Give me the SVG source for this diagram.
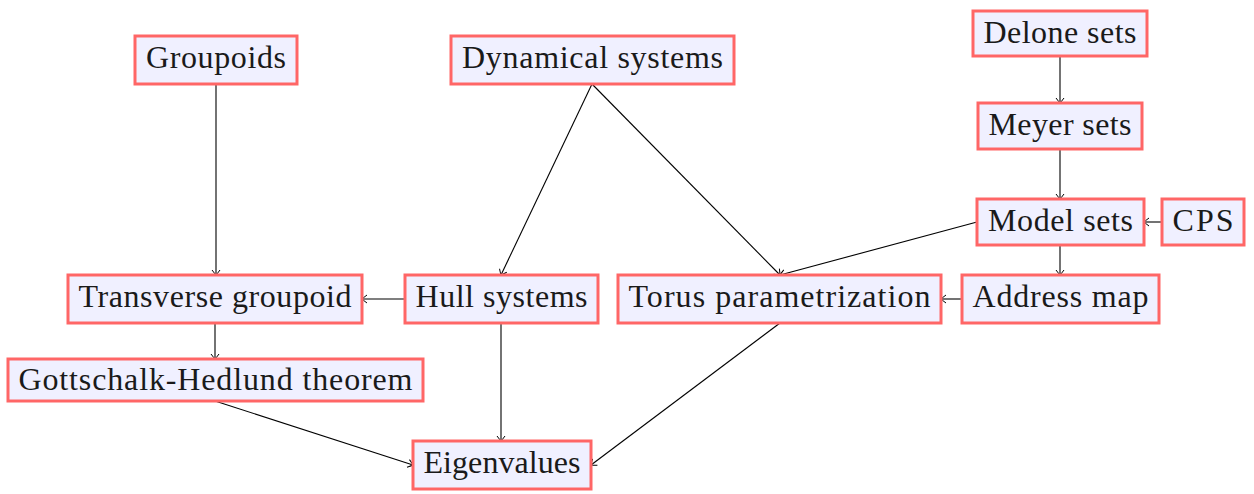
<svg xmlns="http://www.w3.org/2000/svg" width="1254" height="494" viewBox="0 0 1254 494">
<style>
.n rect{fill:#f0f0ff;stroke:#ff6666;stroke-width:3}
.n text{font-family:"Liberation Serif","DejaVu Serif",serif;font-size:32px;fill:#1a1a1a;text-anchor:middle}
.e path{fill:none;stroke:#000;stroke-width:1.1;marker-end:url(#ah)}
</style>
<defs>
<marker id="ah" viewBox="-6 -5 7 10" markerWidth="7" markerHeight="10" refX="0" refY="0" orient="auto" markerUnits="userSpaceOnUse">
<path d="M-5,-4 Q-1,-1 0,0 Q-1,1 -5,4" fill="none" stroke="#000" stroke-width="1"/>
</marker>
</defs>
<g class="e">
<path d="M216,84 L216,275"/>
<path d="M592,84 L501,275"/>
<path d="M592,84 L780,275"/>
<path d="M1060,56 L1060,103"/>
<path d="M1060,149 L1060,199"/>
<path d="M1162,222 L1144,222"/>
<path d="M977,222 L780,275"/>
<path d="M1060,245 L1060,275"/>
<path d="M962,299 L941,299"/>
<path d="M405,299 L362,299"/>
<path d="M215,323 L215,359"/>
<path d="M215,401 L413,465"/>
<path d="M501,323 L501,441"/>
<path d="M780,323 L591,465"/>
</g>
<g id="groupoids" class="n"><rect x="135" y="36" width="162" height="48"/><text x="216" y="68" textLength="140">Groupoids</text></g>
<g id="dynamical" class="n"><rect x="451" y="36" width="283" height="48"/><text x="592.5" y="68" textLength="261">Dynamical systems</text></g>
<g id="delone" class="n"><rect x="973" y="11" width="174" height="45"/><text x="1060" y="43" textLength="153">Delone sets</text></g>
<g id="meyer" class="n"><rect x="978" y="103" width="164" height="46"/><text x="1060" y="135" textLength="143">Meyer sets</text></g>
<g id="model" class="n"><rect x="977" y="199" width="167" height="46"/><text x="1060.5" y="231" textLength="145">Model sets</text></g>
<g id="cps" class="n"><rect x="1162" y="199" width="82" height="46"/><text x="1203" y="231" textLength="61">CPS</text></g>
<g id="transverse" class="n"><rect x="68" y="275" width="294" height="48"/><text x="215" y="307" textLength="273">Transverse groupoid</text></g>
<g id="hull" class="n"><rect x="405" y="275" width="193" height="48"/><text x="501.5" y="307" textLength="172">Hull systems</text></g>
<g id="torus" class="n"><rect x="618" y="275" width="323" height="48"/><text x="779.5" y="307" textLength="302">Torus parametrization</text></g>
<g id="address" class="n"><rect x="962" y="275" width="197" height="48"/><text x="1060.5" y="307" textLength="176">Address map</text></g>
<g id="gottschalk" class="n"><rect x="8" y="359" width="415" height="42"/><text x="215.5" y="390" textLength="394">Gottschalk-Hedlund theorem</text></g>
<g id="eigen" class="n"><rect x="413" y="441" width="178" height="48"/><text x="502" y="473" textLength="157">Eigenvalues</text></g>
</svg>
